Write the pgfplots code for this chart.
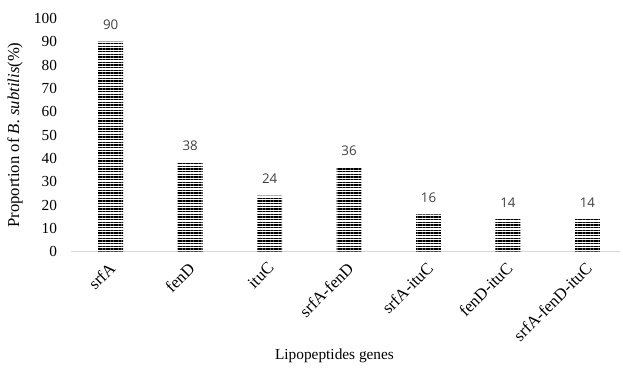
\documentclass[border=0pt]{standalone}
\usepackage{pgfplots}
\pgfplotsset{compat=1.18}
\usetikzlibrary{patterns.meta}
\usepackage{fontspec}
\setmainfont{Liberation Serif}
\newfontfamily\labelfont{Open Sans}
\definecolor{axisgray}{HTML}{D9D9D9}
\definecolor{valgray}{HTML}{404040}

\begin{document}
\begin{tikzpicture}
\begin{axis}[
  scale only axis,
  width=411.75pt, height=175pt,
  xmin=-0.5, xmax=6.41,
  ymin=0, ymax=100,
  ytick={0,10,...,100},
  xtick={0,...,6},
  xticklabels={srfA,fenD,ituC,srfA-fenD,srfA-ituC,fenD-ituC,srfA-fenD-ituC},
  axis x line=bottom,
  axis y line=left,
  x axis line style={-, draw=axisgray, line width=0.8pt},
  y axis line style={draw=none},
  major tick length=0pt,
  yticklabel style={xshift=-7pt, font=\fontsize{11.5}{13}\selectfont},
  xticklabel style={xshift=-2pt, yshift=-5.5pt, rotate=45, anchor=north east, inner sep=1pt,
    font=\fontsize{12.5}{14}\selectfont},
  /pgf/number format/assume math mode=true,
  ylabel={Proportion of \textit{B. subtilis}(\%)},
  ylabel style={at={(axis description cs:-0.102,0.5)}, anchor=center, rotate=0, font=\fontsize{12.5}{14}\selectfont},
  xlabel={Lipopeptides genes},
  xlabel style={at={(axis description cs:0.48,-0.446)}, anchor=center, font=\fontsize{11.5}{13}\selectfont},
  nodes near coords,
  nodes near coords style={font=\labelfont\fontsize{10}{11}\selectfont, text=valgray, yshift=5.5pt},
]
\addplot[ybar, bar width=18.75pt, draw=none,
  pattern={Lines[angle=0, distance=2pt, line width=0.9pt]}, pattern color=black]
  coordinates {(0,90) (1,38) (2,24) (3,36) (4,16) (5,14) (6,14)};
\end{axis}
\pgfresetboundingbox
\path[use as bounding box] (-53.25pt,-94pt) rectangle (414pt,188.8pt);
\end{tikzpicture}
\end{document}
